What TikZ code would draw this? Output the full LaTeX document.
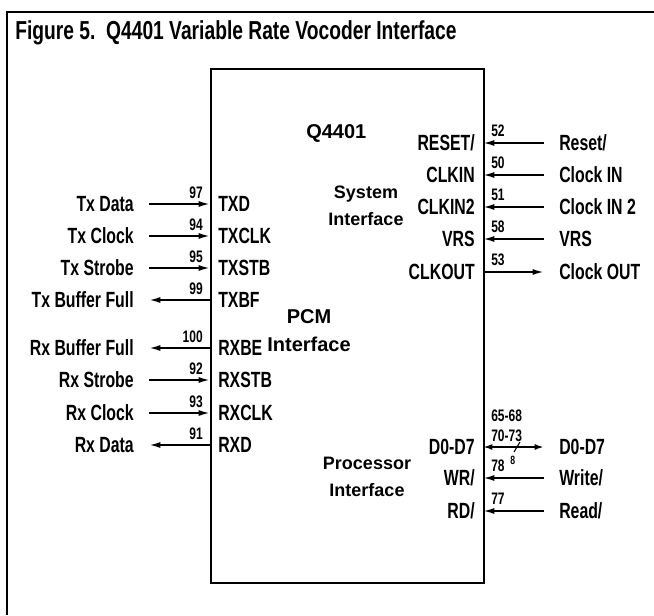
\documentclass[tikz,border=0pt]{standalone}
\usepackage{fontspec}
\setmainfont{Liberation Sans}
\newfontfamily\cond{Liberation Sans}[FakeStretch=0.72]
\newfontfamily\tcond{Liberation Sans}[FakeStretch=0.74]
\usetikzlibrary{arrows.meta}
\tikzset{
  lab/.style={font=\cond\bfseries\fontsize{16.5}{19}\selectfont, inner sep=0pt},
  pin/.style={font=\cond\bfseries\fontsize{12.5}{14}\selectfont, inner sep=0pt},
  blk/.style={font=\bfseries\fontsize{13.5}{20}\selectfont, inner sep=0pt, align=center},
  sig/.style={line width=1.4pt, -{Latex[length=8.5pt,width=4.5pt]}},
  bus/.style={line width=1.4pt, {Latex[length=7pt,width=4.5pt]}-{Latex[length=7pt,width=4.5pt]}},
  frame/.style={line width=1.4pt}
}
\begin{document}
\begin{tikzpicture}[x=0.75pt,y=-0.75pt]
\useasboundingbox (0,0) rectangle (654,615);
% outer frame
\coordinate (fTL) at (7,12);
\coordinate (fTR) at (654,12);
\coordinate (fBL) at (7,615);
\draw[frame] (fTR) -- (fTL) -- (fBL);
\node[font=\tcond\bfseries\fontsize{19.5}{22}\selectfont, anchor=west, inner sep=0pt] (title) at (15,33) {Figure 5.\ \ Q4401 Variable Rate Vocoder Interface};
% chip
\node[draw, line width=1.6pt, minimum width=273*0.75pt, minimum height=514*0.75pt, inner sep=0pt, anchor=north west] (chip) at (210,68) {};
\node[blk, anchor=west, font=\bfseries\fontsize{15}{17}\selectfont] (name) at (306,133) {Q4401};
\node[blk] (sysif) at (366,206) {System\\Interface};
\node[blk, font=\bfseries\fontsize{15}{21}\selectfont] (pcmif) at (309,331) {PCM\\Interface};
\node[blk] (procif) at (367,477) {Processor\\Interface};
% left side signals
\foreach \nm/\y/\ext/\num in {txd/204/Tx Data/97, txclk/236/Tx Clock/94, txstb/268/Tx Strobe/95, txbf/300/Tx Buffer Full/99, rxbe/348/Rx Buffer Full/100, rxstb/380/Rx Strobe/92, rxclk/413/Rx Clock/93, rxd/445/Rx Data/91}{
  \coordinate (\nm B) at (210,\y);
  \coordinate (\nm E) at (149,\y);
  \node[lab, anchor=east] (\nm X) at (134,\y) {\ext};
  \node[pin, anchor=base east] (\nm N) at (203,\y-6) {\num};
}
\node[lab, anchor=west] (txdL) at (218,204) {TXD};
\node[lab, anchor=west] (txclkL) at (218,236) {TXCLK};
\node[lab, anchor=west] (txstbL) at (218,268) {TXSTB};
\node[lab, anchor=west] (txbfL) at (218,300) {TXBF};
\node[lab, anchor=west] (rxbeL) at (218,348) {RXBE};
\node[lab, anchor=west] (rxstbL) at (218,380) {RXSTB};
\node[lab, anchor=west] (rxclkL) at (218,413) {RXCLK};
\node[lab, anchor=west] (rxdL) at (218,445) {RXD};
\draw[sig] (txdE) -- (txdB);
\draw[sig] (txclkE) -- (txclkB);
\draw[sig] (txstbE) -- (txstbB);
\draw[sig] (txbfB) -- (txbfE);
\draw[sig] (rxbeB) -- (rxbeE);
\draw[sig] (rxstbE) -- (rxstbB);
\draw[sig] (rxclkE) -- (rxclkB);
\draw[sig] (rxdB) -- (rxdE);
% right side signals
\foreach \nm/\y/\int/\ext/\num in {reset/143/{RESET/}/{Reset/}/52, clkin/175/CLKIN/Clock IN/50, clkin2/207/CLKIN2/Clock IN 2/51, vrs/239/VRS/VRS/58, clkout/272/CLKOUT/Clock OUT/53, data/447/D0-D7/D0-D7/{}, wr/478/{WR/}/{Write/}/78, rd/511/{RD/}/{Read/}/77}{
  \coordinate (\nm B) at (483,\y);
  \coordinate (\nm E) at (544,\y);
  \node[lab, anchor=east] (\nm L) at (475,\y) {\int};
  \node[lab, anchor=west] (\nm X) at (559,\y) {\ext};
  \node[pin, anchor=base west] (\nm N) at (491,\y-7) {\num};
}
\draw[sig] (resetE) -- (resetB);
\draw[sig] (clkinE) -- (clkinB);
\draw[sig] (clkin2E) -- (clkin2B);
\draw[sig] (vrsE) -- (vrsB);
\draw[sig] (clkoutB) -- (clkoutE);
\draw[sig] (wrE) -- (wrB);
\draw[sig] (rdE) -- (rdB);
\draw[bus] (dataB) -- (dataE);
\coordinate (sl1) at (514,452);
\coordinate (sl2) at (520,442);
\draw[line width=0.8pt] (sl1) -- (sl2);
\node[pin, anchor=base west] (d1) at (491,421) {65-68};
\node[pin, anchor=base west] (d2) at (491,441) {70-73};
\node[pin, anchor=base west, font=\cond\bfseries\fontsize{9}{10}\selectfont] (bw) at (510,464) {8};
\end{tikzpicture}
\end{document}
